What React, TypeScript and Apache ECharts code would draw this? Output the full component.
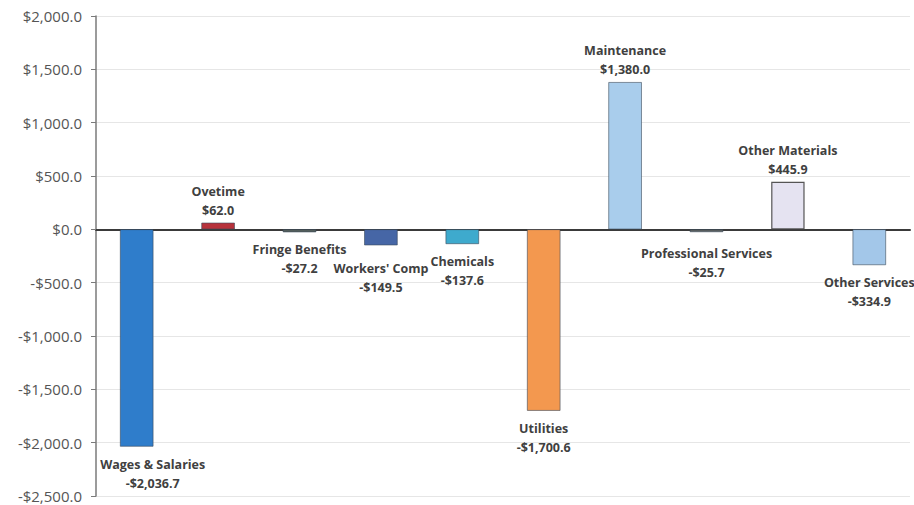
import React, { useEffect, useRef } from "react";
import * as echarts from "echarts";

const categories = [
  "Wages & Salaries",
  "Ovetime",
  "Fringe Benefits",
  "Workers' Comp",
  "Chemicals",
  "Utilities",
  "Maintenance",
  "Professional Services",
  "Other Materials",
  "Other Services",
];
const values = [-2036.7, 62.0, -27.2, -149.5, -137.6, -1700.6, 1380.0, -25.7, 445.9, -334.9];
const barColors = [
  "#2f7dcb",
  "#b7323b",
  "#55605c",
  "#4666a6",
  "#3eaacd",
  "#f3984f",
  "#a9cdec",
  "#5a5f5e",
  "#e5e3f1",
  "#a3c7e9",
];
const labelDistances = [8, 3, 8, 14, 8, 8, 3, 12, 3, 8];
const labelShiftX = [16, 0, 0, 0, 0, 0, 0, 0, 0, 0];
const yTicks = { min: -2500, max: 2000, interval: 500 };

const fmt = (v: number) => {
  const s = Math.abs(v).toLocaleString("en-US", { minimumFractionDigits: 1, maximumFractionDigits: 1 });
  return (v < 0 ? "-$" : "$") + s;
};

export default function App() {
  const ref = useRef<HTMLDivElement>(null);
  useEffect(() => {
    if (!ref.current) return;
    const chart = echarts.init(ref.current, null, { renderer: "svg" });
    chart.setOption({
      animation: false,
      backgroundColor: "#ffffff",
      grid: { left: 96, right: 4, top: 16, bottom: 9, containLabel: false },
      xAxis: {
        type: "category",
        data: categories,
        axisLine: { onZero: true, lineStyle: { color: "#3a3a3a", width: 2 } },
        axisTick: { show: false },
        axisLabel: { show: false },
        splitLine: { show: false },
      },
      yAxis: {
        type: "value",
        min: yTicks.min,
        max: yTicks.max,
        interval: yTicks.interval,
        axisLine: { show: true, lineStyle: { color: "#7a7a7a", width: 1.5 } },
        axisTick: { show: true, length: 5, lineStyle: { color: "#7a7a7a" } },
        axisLabel: {
          formatter: (v: number) => fmt(v),
          color: "#555555",
          fontFamily: "Open Sans",
          fontSize: 15,
          margin: 14,
        },
        splitLine: { lineStyle: { color: "#e6e6e6", width: 1 } },
      },
      series: [
        {
          type: "bar",
          barWidth: "41%",
          data: values.map((v, i) => ({
            value: v,
            itemStyle: {
              color: barColors[i],
              borderColor: i === 8 ? "#555555" : "#3a4a5a",
              borderWidth: i === 8 ? 1.2 : 0.6,
            },
            label: {
              show: true,
              position: v >= 0 ? "top" : "bottom",
              distance: labelDistances[i],
              offset: [labelShiftX[i], 0],
              formatter: () => categories[i] + "\n" + fmt(v),
              color: "#404040",
              fontFamily: "Open Sans",
              fontWeight: "bold",
              fontSize: 12.5,
              lineHeight: 19,
              align: "center",
            },
          })),
        },
      ],
    });
    return () => chart.dispose();
  }, []);
  return (
    <div
      ref={ref}
      style={{ position: "fixed", left: 0, top: 0, width: 914, height: 505, background: "#fff" }}
    />
  );
}
